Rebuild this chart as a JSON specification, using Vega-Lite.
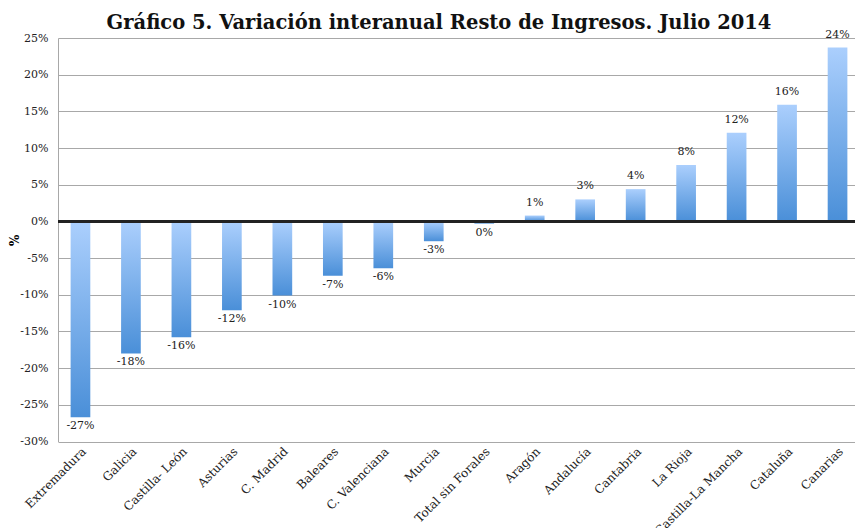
{
  "$schema": "https://vega.github.io/schema/vega-lite/v6.json",
  "autosize": "none",
  "width": 802,
  "height": 403.5,
  "padding": {"left": 58, "top": 38, "right": 0, "bottom": 86},
  "background": "white",
  "title": {
    "text": "Gráfico 5. Variación interanual Resto de Ingresos. Julio 2014",
    "font": "DejaVu Serif",
    "fontSize": 19.5,
    "fontWeight": "bold",
    "color": "#111",
    "anchor": "middle",
    "dx": -20,
    "offset": -5
  },
  "config": {
    "locale": {
      "number": {"decimal": ".", "thousands": ",", "grouping": [3], "currency": ["$", ""], "minus": "-"}
    },
    "view": {"stroke": null},
    "axis": {"labelFont": "DejaVu Serif", "titleFont": "DejaVu Serif", "labelColor": "#222"}
  },
  "data": {
    "values": [
      {"region": "Extremadura", "v": -0.267},
      {"region": "Galicia", "v": -0.180},
      {"region": "Castilla- León", "v": -0.158},
      {"region": "Asturias", "v": -0.121},
      {"region": "C. Madrid", "v": -0.101},
      {"region": "Baleares", "v": -0.074},
      {"region": "C. Valenciana", "v": -0.064},
      {"region": "Murcia", "v": -0.027},
      {"region": "Total sin Forales", "v": -0.003},
      {"region": "Aragón", "v": 0.008},
      {"region": "Andalucía", "v": 0.030},
      {"region": "Cantabria", "v": 0.044},
      {"region": "La Rioja", "v": 0.077},
      {"region": "Castilla-La Mancha", "v": 0.121},
      {"region": "Cataluña", "v": 0.159},
      {"region": "Canarias", "v": 0.237}
    ]
  },
  "encoding": {
    "x": {
      "field": "region",
      "type": "nominal",
      "sort": null,
      "scale": {"paddingInner": 0.61, "paddingOuter": 0.25},
      "axis": {
        "title": null,
        "labelAngle": -45,
        "labelFontSize": 12,
        "labelPadding": 4,
        "ticks": false,
        "domain": false
      }
    },
    "y": {
      "field": "v",
      "type": "quantitative",
      "scale": {"domain": [-0.30, 0.25], "nice": false},
      "axis": {
        "title": "%",
        "titleFontSize": 12,
        "titleFontWeight": "bold",
        "titlePadding": -2,
        "format": ".0%",
        "values": [-0.30, -0.25, -0.20, -0.15, -0.10, -0.05, 0, 0.05, 0.10, 0.15, 0.20, 0.25],
        "labelFontSize": 11,
        "labelPadding": 10,
        "ticks": false,
        "domainColor": "#a8a8a8",
        "gridColor": "#a8a8a8",
        "gridOpacity": 1
      }
    }
  },
  "layer": [
    {
      "mark": {
        "type": "bar",
        "fill": {
          "gradient": "linear",
          "x1": 0, "y1": 0, "x2": 0, "y2": 1,
          "stops": [
            {"offset": 0, "color": "#abcffd"},
            {"offset": 1, "color": "#4a8fd8"}
          ]
        }
      }
    },
    {
      "mark": {"type": "rule", "color": "#222", "strokeWidth": 2},
      "encoding": {"y": {"datum": 0}, "x": {}}
    },
    {
      "transform": [{"filter": "datum.v >= 0"}],
      "mark": {"type": "text", "baseline": "bottom", "dy": -8, "font": "DejaVu Serif", "fontSize": 11, "color": "#222"},
      "encoding": {"text": {"field": "v", "format": ".0%"}}
    },
    {
      "transform": [{"filter": "datum.v < 0"}],
      "mark": {"type": "text", "baseline": "top", "dy": 3, "font": "DejaVu Serif", "fontSize": 11, "color": "#222"},
      "encoding": {"text": {"field": "v", "format": ".0%"}}
    }
  ]
}
